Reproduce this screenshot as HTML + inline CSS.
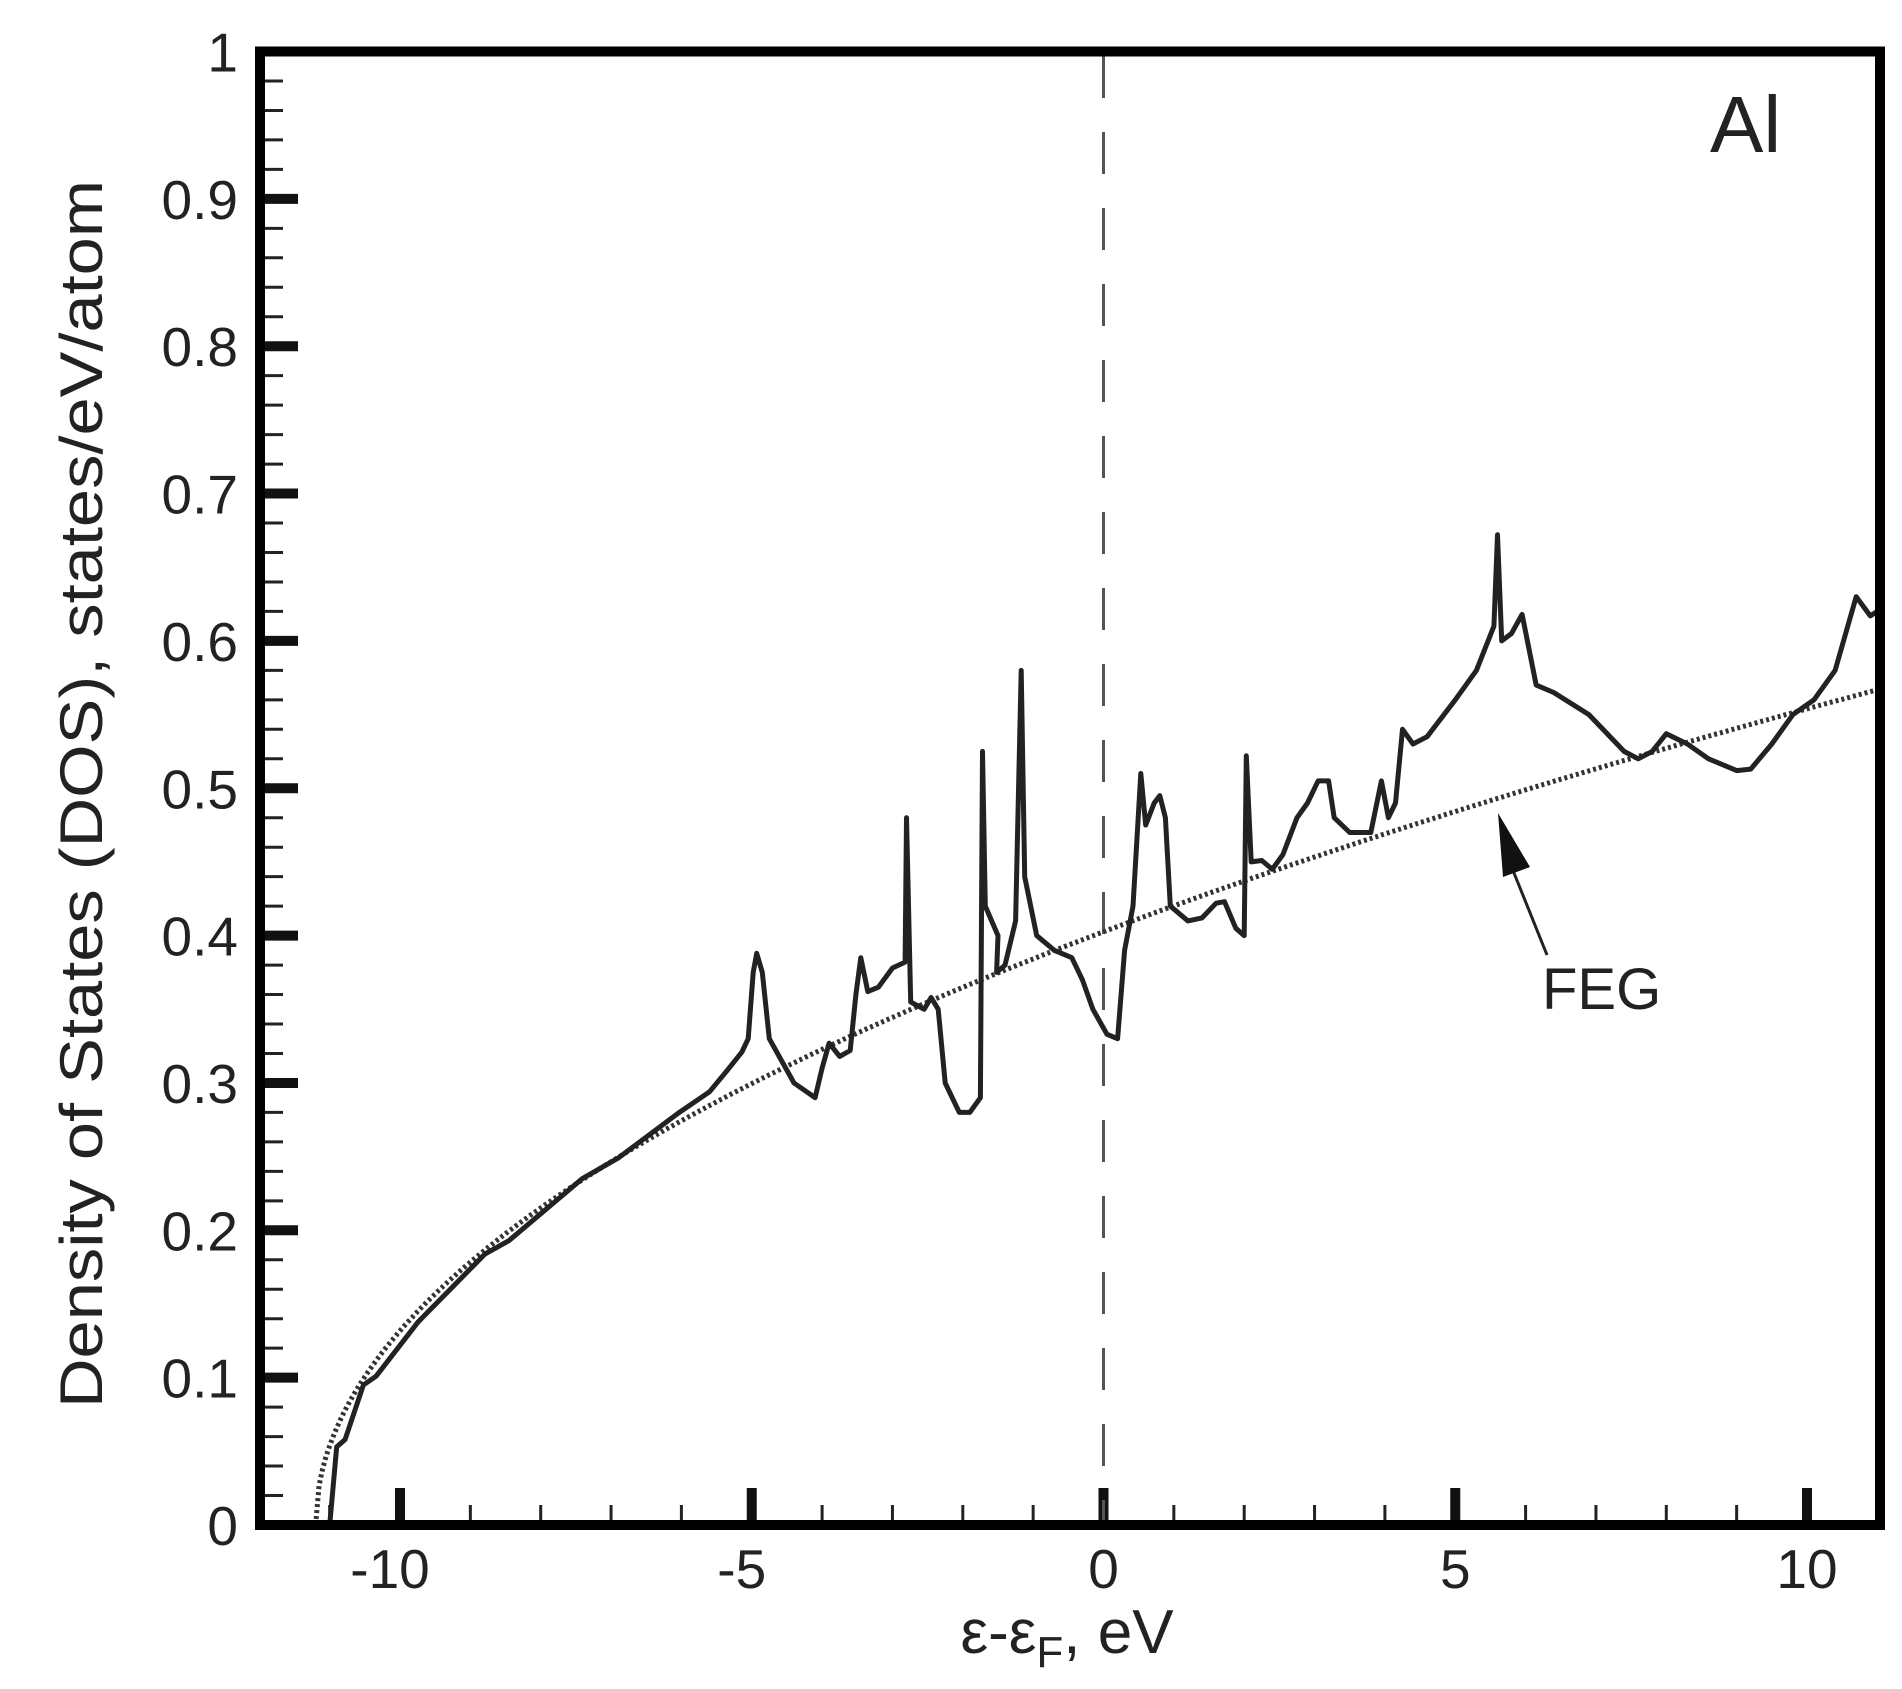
<!DOCTYPE html>
<html><head><meta charset="utf-8"><style>
html,body{margin:0;padding:0;background:#fff;}
svg{display:block;}
text{font-family:"Liberation Sans",sans-serif;fill:#222;}
</style></head><body>
<svg id="s" width="1902" height="1689" viewBox="0 0 1902 1689" xmlns="http://www.w3.org/2000/svg">
<g id="ticks"></g>
<line x1="1103.5" y1="56" x2="1103.5" y2="1525" stroke="#555" stroke-width="3" stroke-dasharray="42,34"/>
<path id="feg" fill="none" stroke="#333" stroke-width="5" stroke-dasharray="3,3"/>
<path id="dos" fill="none" stroke="#222" stroke-width="5" stroke-linejoin="round"/>
<rect x="260" y="51.5" width="1620" height="1473.5" fill="none" stroke="#000" stroke-width="10"/>
<line x1="1547" y1="955" x2="1512" y2="868" stroke="#222" stroke-width="3"/>
<polygon points="1498,813 1503,877 1530,867" fill="#111"/>
<text x="1542" y="1009" font-size="58">FEG</text>
<text x="1710" y="152" font-size="80">Al</text>
<g id="labels" font-size="55"></g>
<text x="1067" y="1653" font-size="62" text-anchor="middle">ε-ε<tspan font-size="44" dy="14">F</tspan><tspan dy="-14">, eV</tspan></text>
<text transform="translate(102,794) rotate(-90)" font-size="60" text-anchor="middle" textLength="1228" lengthAdjust="spacingAndGlyphs">Density of States (DOS), states/eV/atom</text>
</svg>
<script>
var X=function(e){return 1103.5+70.35*e}, Y=function(v){return 1525-1473.5*v};
var NS="http://www.w3.org/2000/svg";
function el(p,t,a,txt){var e=document.createElementNS(NS,t);for(var k in a)e.setAttribute(k,a[k]);if(txt!=null)e.textContent=txt;p.appendChild(e);return e;}
var tk=document.getElementById('ticks'), lb=document.getElementById('labels');
for(var i=0;i<=50;i++){var v=i*0.02,y=Y(v);
 if(i%5==0){el(tk,'line',{x1:262,y1:y,x2:298,y2:y,stroke:'#111','stroke-width':10});
  el(lb,'text',{x:238,y:y+20,'text-anchor':'end'},(i==0?'0':i==50?'1':(v.toFixed(1))));}
 else el(tk,'line',{x1:262,y1:y,x2:283,y2:y,stroke:'#222','stroke-width':3});}
for(var e=-11;e<=10;e++){var x=X(e);
 if(e%5==0){el(tk,'line',{x1:x,y1:1523,x2:x,y2:1488,stroke:'#111','stroke-width':10});
  el(lb,'text',{x:x+(e<0?-10:0),y:1588,'text-anchor':'middle'},String(e));}
 else el(tk,'line',{x1:x,y1:1523,x2:x,y2:1505,stroke:'#222','stroke-width':3});}
var d="";for(var e=-11.2;e<=11.01;e+=0.05){var v=0.1203*Math.sqrt(Math.max(0,e+11.2));d+=(d?"L":"M")+X(e).toFixed(1)+","+Y(v).toFixed(1);}
document.getElementById('feg').setAttribute('d',d);
var P=[[-11,0],[-10.9,0.053],[-10.78,0.058],[-10.52,0.095],[-10.34,0.101],[-9.74,0.138],[-8.79,0.184],[-8.45,0.193],[-7.41,0.235],[-6.9,0.249],[-6.03,0.28],[-5.6,0.294],[-5.34,0.309],[-5.14,0.321],[-5.05,0.33],[-4.98,0.375],[-4.93,0.388],[-4.85,0.375],[-4.75,0.33],[-4.4,0.3],[-4.1,0.29],[-4.0,0.31],[-3.9,0.327],[-3.75,0.318],[-3.6,0.322],[-3.52,0.36],[-3.45,0.385],[-3.35,0.362],[-3.2,0.365],[-3.0,0.378],[-2.82,0.382],[-2.8,0.48],[-2.74,0.355],[-2.55,0.35],[-2.45,0.358],[-2.35,0.35],[-2.25,0.3],[-2.05,0.28],[-1.9,0.28],[-1.75,0.29],[-1.72,0.525],[-1.68,0.42],[-1.5,0.4],[-1.52,0.375],[-1.4,0.38],[-1.25,0.41],[-1.17,0.58],[-1.12,0.44],[-0.95,0.4],[-0.7,0.39],[-0.45,0.385],[-0.3,0.37],[-0.15,0.35],[0.05,0.333],[0.2,0.33],[0.3,0.39],[0.42,0.42],[0.53,0.51],[0.6,0.475],[0.72,0.49],[0.8,0.495],[0.88,0.48],[0.95,0.42],[1.2,0.41],[1.4,0.412],[1.6,0.422],[1.72,0.423],[1.88,0.405],[2.0,0.4],[2.03,0.522],[2.1,0.45],[2.25,0.451],[2.4,0.445],[2.55,0.455],[2.75,0.48],[2.9,0.49],[3.05,0.505],[3.2,0.505],[3.28,0.48],[3.5,0.47],[3.8,0.47],[3.95,0.505],[4.05,0.48],[4.15,0.49],[4.25,0.54],[4.4,0.53],[4.6,0.535],[5.0,0.56],[5.3,0.58],[5.55,0.61],[5.6,0.672],[5.66,0.6],[5.8,0.605],[5.95,0.618],[6.15,0.57],[6.4,0.565],[6.9,0.55],[7.4,0.525],[7.6,0.52],[7.8,0.525],[8.0,0.537],[8.3,0.53],[8.6,0.52],[9.0,0.512],[9.2,0.513],[9.5,0.53],[9.8,0.55],[10.1,0.56],[10.4,0.58],[10.7,0.63],[10.9,0.617],[11,0.62]];
d="";P.forEach(function(p){d+=(d?"L":"M")+X(p[0]).toFixed(1)+","+Y(p[1]).toFixed(1);});
document.getElementById('dos').setAttribute('d',d);
</script>
</body></html>
